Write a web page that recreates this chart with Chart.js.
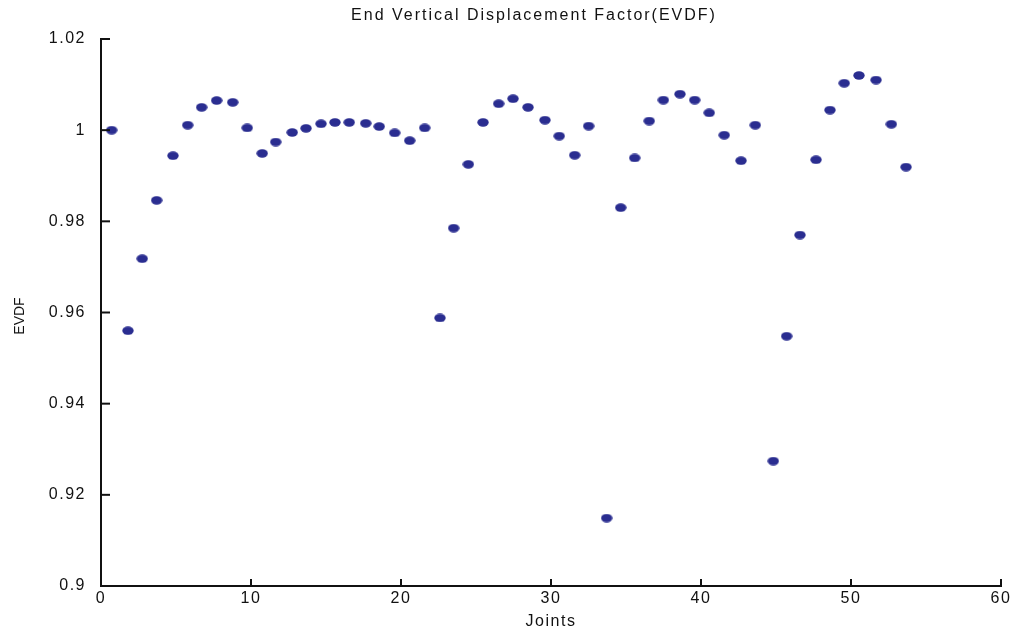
<!DOCTYPE html>
<html>
<head>
<meta charset="utf-8">
<script src="https://cdn.jsdelivr.net/npm/chart.js@4.4.1/dist/chart.umd.min.js"></script>
<style>
  html, body { margin: 0; padding: 0; background: #fff; }
  #wrap { width: 1016px; height: 634px; }
</style>
</head>
<body>
<div id="wrap"><canvas id="evdf-chart"></canvas></div>
<script>
// joint positions along the x axis and their EVDF values
const jointPos = [
  0.71, 1.80, 2.75, 3.71, 4.80, 5.78, 6.71, 7.71, 8.78, 9.75,
  10.75, 11.65, 12.75, 13.67, 14.67, 15.60, 16.55, 17.65, 18.55, 19.58,
  20.58, 21.58, 22.60, 23.51, 24.49, 25.47, 26.51, 27.47, 28.47, 29.60,
  30.55, 31.58, 32.51, 33.71, 34.65, 35.58, 36.55, 37.49, 38.60, 39.58,
  40.55, 41.55, 42.67, 43.62, 44.82, 45.71, 46.60, 47.67, 48.60, 49.55,
  50.53, 51.67, 52.69, 53.67
];
const evdf = [
  1.0000, 0.9560, 0.9718, 0.9846, 0.9944, 1.0011, 1.0050, 1.0065, 1.0061, 1.0005,
  0.9949, 0.9974, 0.9995, 1.0004, 1.0014, 1.0017, 1.0017, 1.0015, 1.0008, 0.9994,
  0.9977, 1.0005, 0.9588, 0.9785, 0.9925, 1.0017, 1.0058, 1.0069, 1.0050, 1.0022,
  0.9987, 0.9945, 1.0009, 0.9149, 0.9830, 0.9939, 1.0020, 1.0066, 1.0079, 1.0066,
  1.0038, 0.9989, 0.9933, 1.0011, 0.9274, 0.9548, 0.9770, 0.9935, 1.0044, 1.0103,
  1.0120, 1.0110, 1.0013, 0.9919
];
const xTicks = [0, 10, 20, 30, 40, 50, 60];
const yTicks = [0.9, 0.92, 0.94, 0.96, 0.98, 1, 1.02];

const dotColor = '#2a2d90';
const fontFam = '"Liberation Sans", Arial, Helvetica, sans-serif';

// flat oval marker
function ovalMarker(w, h, color) {
  const c = document.createElement('canvas');
  c.width = w; c.height = h;
  const g = c.getContext('2d');
  g.fillStyle = color;
  g.beginPath();
  g.ellipse(w / 2, h / 2, w / 2 - 0.3, h / 2 - 0.3, 0, 0, Math.PI * 2);
  g.fill();
  return c;
}

// widen the axis lettering a little
const spacing = {
  id: 'spacing',
  beforeDraw(chart) { chart.ctx.letterSpacing = '1.5px'; }
};

// inward tick marks, plot title and y axis name
const decorations = {
  id: 'decorations',
  afterDraw(chart) {
    const {ctx, scales: {x, y}} = chart;
    ctx.save();
    ctx.strokeStyle = '#111';
    ctx.lineWidth = 2;
    xTicks.forEach(v => {
      const px = x.getPixelForValue(v);
      ctx.beginPath();
      ctx.moveTo(px, y.bottom);
      ctx.lineTo(px, y.bottom - 7);
      ctx.stroke();
    });
    yTicks.forEach(v => {
      const py = y.getPixelForValue(v);
      ctx.beginPath();
      ctx.moveTo(x.left, py);
      ctx.lineTo(x.left + 9, py);
      ctx.stroke();
    });
    ctx.fillStyle = '#111';
    ctx.textAlign = 'center';
    ctx.textBaseline = 'middle';
    ctx.letterSpacing = '2px';
    ctx.font = '16px ' + fontFam;
    ctx.fillText('End Vertical Displacement Factor(EVDF)', 534, 16);

    ctx.letterSpacing = '0px';
    ctx.font = '14px ' + fontFam;
    ctx.translate(20, 316);
    ctx.rotate(-Math.PI / 2);
    ctx.fillText('EVDF', 0, 0);
    ctx.restore();
  }
};

new Chart(document.getElementById('evdf-chart'), {
  type: 'scatter',
  data: {
    datasets: [{
      data: jointPos.map((j, i) => ({x: j, y: evdf[i]})),
      pointStyle: ovalMarker(12, 9, dotColor),
      backgroundColor: dotColor,
      borderColor: dotColor
    }]
  },
  options: {
    responsive: true,
    maintainAspectRatio: false,
    animation: false,
    layout: { padding: { top: 39, right: 15, bottom: 0, left: 0 } },
    plugins: {
      legend: { display: false },
      tooltip: { enabled: false },
      title: { display: false }
    },
    scales: {
      x: {
        type: 'linear',
        min: 0, max: 60,
        afterBuildTicks: s => { s.ticks = xTicks.map(v => ({value: v})); },
        afterFit: s => { s.height = 48; },
        grid: { display: true, drawOnChartArea: false, drawTicks: false },
        border: { display: true, color: '#111', width: 2 },
        ticks: { color: '#111', padding: 3, font: { family: fontFam, size: 16 } },
        title: {
          display: true, text: 'Joints', color: '#111',
          font: { family: fontFam, size: 16 }, padding: { top: 0, bottom: 3 }
        }
      },
      y: {
        type: 'linear',
        min: 0.9, max: 1.02,
        afterBuildTicks: s => { s.ticks = yTicks.map(v => ({value: v})); },
        afterFit: s => { s.width = 101; },
        grid: { display: true, drawOnChartArea: false, drawTicks: false },
        border: { display: true, color: '#111', width: 2 },
        ticks: {
          color: '#111', padding: 15, font: { family: fontFam, size: 16 },
          callback: v => String(+v.toFixed(2))
        },
        title: { display: false }
      }
    }
  },
  plugins: [spacing, decorations]
});
</script>
</body>
</html>
